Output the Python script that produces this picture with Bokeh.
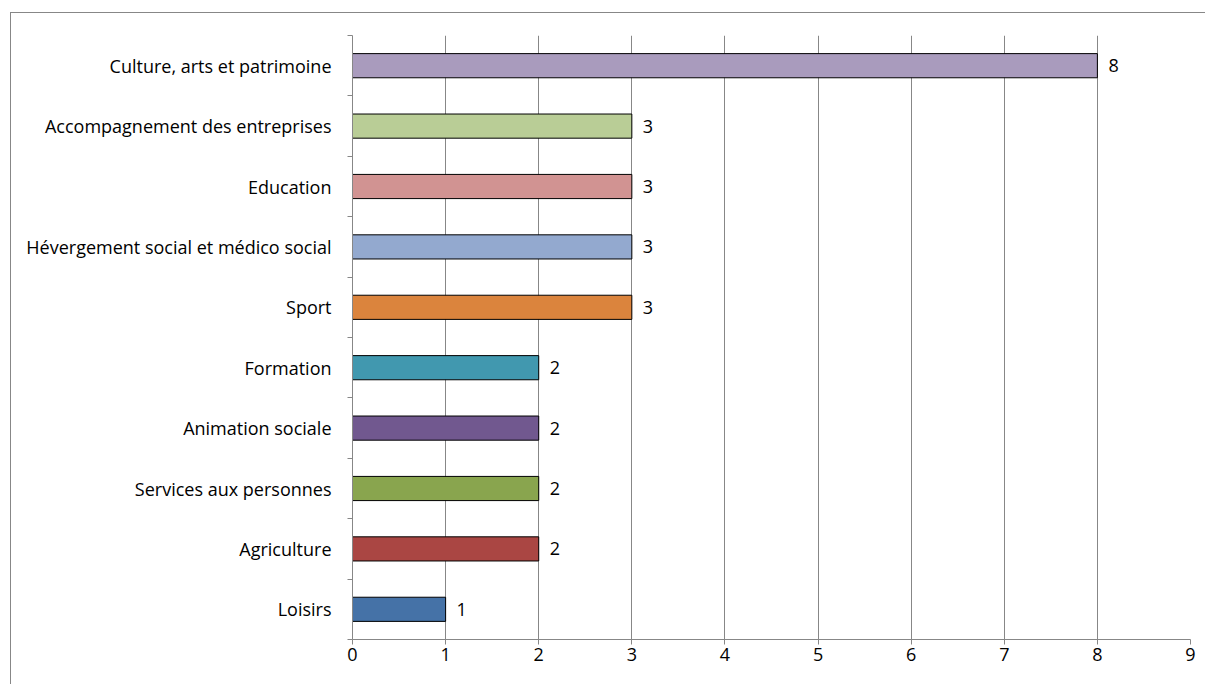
from bokeh.plotting import figure
from bokeh.models import ColumnDataSource, FixedTicker, Range1d
from bokeh.core.properties import value
from bokeh.embed import file_html
from bokeh.resources import INLINE

# Sectors listed bottom to top
categories = [
    "Loisirs",
    "Agriculture",
    "Services aux personnes",
    "Animation sociale",
    "Formation",
    "Sport",
    "Hévergement social et médico social",
    "Education",
    "Accompagnement des entreprises",
    "Culture, arts et patrimoine",
]
counts = [1, 2, 2, 2, 2, 3, 3, 3, 3, 8]
colors = [
    "#4572A7", "#AA4643", "#89A54E", "#71588F", "#4198AF",
    "#DB843D", "#93A9CF", "#D19392", "#B9CD96", "#A99BBD",
]
x_ticks = list(range(0, 10))

FONT = "Open Sans"
FONT_SIZE = "18px"
GRAY = "#878787"

positions = [i + 0.5 for i in range(len(categories))]
source = ColumnDataSource(dict(
    y=positions,
    count=counts,
    color=colors,
    label=[str(c) for c in counts],
))

p = figure(
    width=1195, height=672,
    x_range=Range1d(0, 9), y_range=Range1d(0, len(categories)),
    output_backend="svg", toolbar_location=None,
    min_border_left=341, min_border_right=16,
    min_border_top=22, min_border_bottom=46,
    margin=(12, 0, 0, 10),
    styles={"border-top": f"1px solid {GRAY}", "border-left": f"1px solid {GRAY}"},
)
p.outline_line_color = None
p.background_fill_color = "white"

p.hbar(y="y", right="count", left=0, height=0.4, source=source,
       fill_color="color", line_color="black", line_width=1)

p.text(x="count", y="y", text="label", source=source,
       x_offset=11, text_align="left", text_baseline="middle",
       text_font=value(FONT), text_font_size=FONT_SIZE, text_color="black")

# vertical grid only
p.ygrid.grid_line_color = None
p.xgrid.grid_line_color = GRAY
p.xgrid.grid_line_width = 1
p.xgrid.ticker = FixedTicker(ticks=x_ticks)

# x axis
p.xaxis.ticker = FixedTicker(ticks=x_ticks)
p.xaxis.axis_line_color = GRAY
p.xaxis.major_tick_line_color = GRAY
p.xaxis.major_tick_out = 5
p.xaxis.major_tick_in = 0
p.xaxis.minor_tick_line_color = None
p.xaxis.major_label_text_font = FONT
p.xaxis.major_label_text_font_size = FONT_SIZE
p.xaxis.major_label_text_color = "black"
p.xaxis.major_label_standoff = 3

# y axis: labels at band centres, ticks at band boundaries
p.yaxis.ticker = FixedTicker(ticks=positions,
                             minor_ticks=list(range(len(categories) + 1)))
p.yaxis.major_label_overrides = {pos: name for pos, name in zip(positions, categories)}
p.yaxis.axis_line_color = GRAY
p.yaxis.major_tick_line_color = None
p.yaxis.major_tick_out = 0
p.yaxis.major_tick_in = 0
p.yaxis.minor_tick_line_color = GRAY
p.yaxis.minor_tick_out = 5
p.yaxis.minor_tick_in = 0
p.yaxis.major_label_text_font = FONT
p.yaxis.major_label_text_font_size = FONT_SIZE
p.yaxis.major_label_text_color = "black"
p.yaxis.major_label_standoff = 16

open("out.html", "w").write(file_html(p, INLINE))
